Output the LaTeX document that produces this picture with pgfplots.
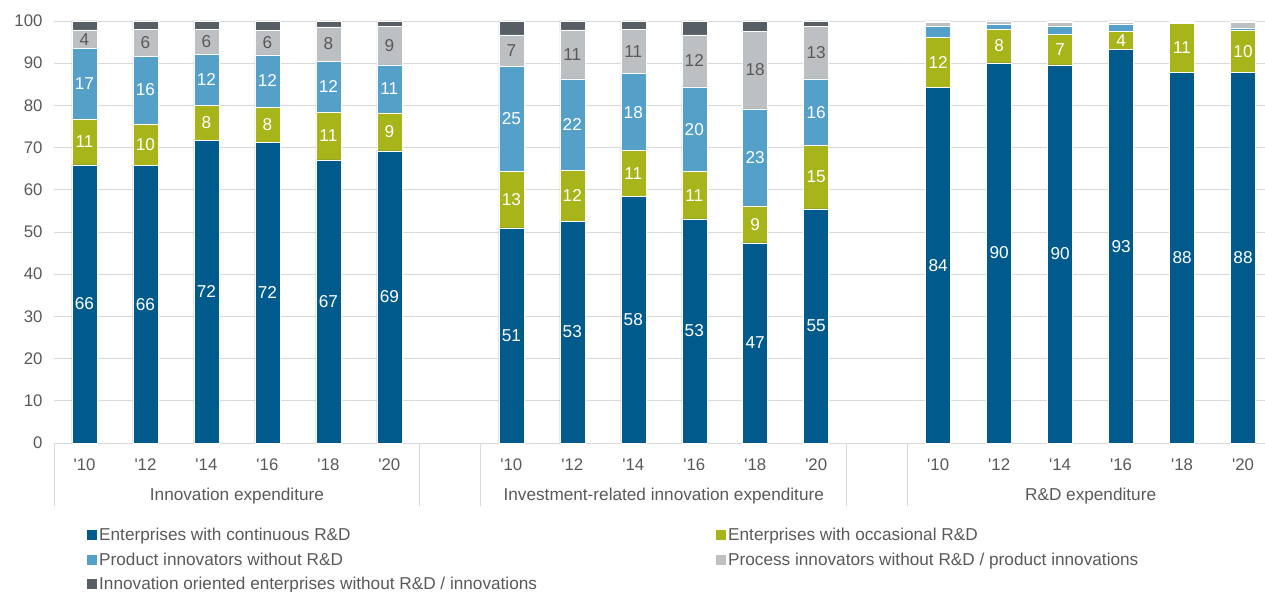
\documentclass[border=0pt]{standalone}
\usepackage{fontspec}
\setmainfont{Liberation Sans}[Ligatures=TeXOff]
\usepackage{pgfplots}
\pgfplotsset{compat=1.18}
\usepackage{pgfplotstable}

\definecolor{cCont}{HTML}{005B8C}
\definecolor{cOcc}{HTML}{A8B51A}
\definecolor{cProd}{HTML}{54A0C8}
\definecolor{cProc}{HTML}{BDC0C3}
\definecolor{cInno}{HTML}{585E65}
\definecolor{labc}{HTML}{595959}
\definecolor{gridc}{HTML}{D9D9D9}

\newcommand{\fs}{\fontsize{17.2}{20.6}\selectfont}
\newcommand{\ft}{\fontsize{16.8}{20.2}\selectfont}

\pgfplotstableread{
x  c    o    p    q    r   lc lo lp lq
0  65.9 10.9 16.7 4.4  2.1 66 11 17 4
1  65.8 9.8  16.1 6.4  1.9 66 10 16 6
2  71.7 8.3  12.1 6.0  1.9 72 8  12 6
3  71.3 8.3  12.4 5.7  2.3 72 8  12 6
4  67.1 11.3 12.1 8.1  1.4 67 11 12 8
5  69.2 9.0  11.4 9.2  1.2 69 9  11 9
7  51.0 13.4 24.9 7.4  3.3 51 13 25 7
8  52.6 12.0 21.7 11.6 2.1 53 12 22 11
9  58.4 10.9 18.2 10.5 2.0 58 11 18 11
10 53.1 11.2 20.1 12.3 3.3 53 11 20 12
11 47.4 8.8  23.0 18.4 2.4 47 9  23 18
12 55.5 15.0 15.8 12.5 1.2 55 15 16 13
14 84.3 11.8 2.6  0.9  0.4 84 12 {} {}
15 90.1 8.0  1.1  0.7  0.1 90 8  {} {}
16 89.6 7.3  1.8  0.9  0.4 90 7  {} {}
17 93.2 4.4  1.6  0.4  0.4 93 4  {} {}
18 87.8 11.6 0.2  0.4  0.0 88 11 {} {}
19 87.9 9.8  0.6  1.5  0.2 88 10 {} {}
}\data

\begin{document}
\begin{tikzpicture}
\begin{axis}[
  name=ax,
  scale only axis, width=1211pt, height=422pt,
  ybar stacked, bar width=25pt,
  xmin=-0.5, xmax=19.36, ymin=0, ymax=100,
  clip=false,
  ytick={0,10,...,100},
  xtick={0,1,2,3,4,5,7,8,9,10,11,12,14,15,16,17,18,19},
  xticklabels={'10,'12,'14,'16,'18,'20,'10,'12,'14,'16,'18,'20,'10,'12,'14,'16,'18,'20},
  axis x line*=bottom, axis y line*=left,
  x axis line style={draw=gridc, line width=0.8pt},
  y axis line style={draw=none},
  major tick length=0pt,
  ymajorgrids, grid style={draw=gridc, line width=0.8pt},
  /pgf/number format/assume math mode=true,
  tick label style={font=\ft, text=labc},
  yticklabel style={xshift=-8pt},
  xticklabel style={yshift=-12pt},
  every axis plot/.append style={draw=white, line width=0.5pt},
  lbl/.style={point meta=explicit symbolic, nodes near coords,
    every node near coord/.append style={anchor=center, font=\fs, text=#1}},
  legend columns=2,
  legend style={at={(0,0)}, anchor=north west, xshift=30pt, yshift=-81pt,
    draw=none, fill=none, font=\fs, text=labc, row sep=6.5pt,
    /tikz/every even column/.append style={column sep=15pt}},
  legend cell align=left,
  legend image code/.code={\draw[#1,draw=none] (0pt,-5pt) rectangle (10pt,5pt);},
]
\addplot[fill=cCont, lbl=white] table[x=x,y=c,meta=lc]{\data};
\addlegendentry{\makebox[600pt][l]{Enterprises with continuous R\&D}}
\addplot[fill=cOcc, lbl=white] table[x=x,y=o,meta=lo]{\data};
\addlegendentry{Enterprises with occasional R\&D}
\addplot[fill=cProd, lbl=white] table[x=x,y=p,meta=lp]{\data};
\addlegendentry{\makebox[600pt][l]{Product innovators without R\&D}}
\addplot[fill=cProc, lbl=labc] table[x=x,y=q,meta=lq]{\data};
\addlegendentry{Process innovators without R\&D / product innovations}
\addplot[fill=cInno] table[x=x,y=r]{\data};
\addlegendentry{\makebox[600pt][l]{Innovation oriented enterprises without R\&D / innovations}}

\pgfplotsinvokeforeach{-0.5,5.5,6.5,12.5,13.5}{
  \draw[gridc, line width=0.8pt] (axis cs:#1,0) -- ([yshift=-63pt]axis cs:#1,0);
}
\node[font=\fs, text=labc] at ([yshift=-53pt]axis cs:2.5,0) {Innovation expenditure};
\node[font=\fs, text=labc] at ([yshift=-53pt]axis cs:9.5,0) {Investment-related innovation expenditure};
\node[font=\fs, text=labc] at ([yshift=-53pt]axis cs:16.5,0) {R\&D expenditure};
\end{axis}
\pgfresetboundingbox
\path[use as bounding box] ([xshift=-54pt,yshift=-148pt]ax.south west) rectangle ([yshift=21pt]ax.north east);
\end{tikzpicture}
\end{document}
